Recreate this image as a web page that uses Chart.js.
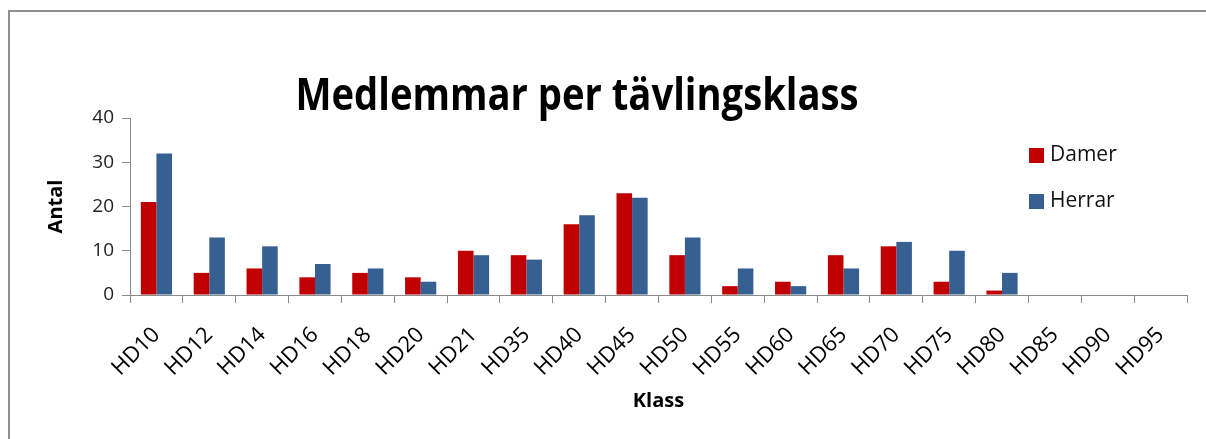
<!DOCTYPE html>
<html>
<head>
<meta charset="utf-8">
<script src="https://cdn.jsdelivr.net/npm/chart.js@4.4.0/dist/chart.umd.min.js"></script>
<style>
  html, body { margin: 0; padding: 0; background: #fff; }
  #wrap { position: relative; width: 1206px; height: 439px; overflow: hidden; }
  #frame { position: absolute; left: 8px; top: 10px; width: 1300px; height: 500px;
           border-left: 2px solid #8f8f8f; border-top: 2px solid #8f8f8f; }
  canvas { position: absolute; left: 0; top: 0; }
</style>
</head>
<body>
<div id="wrap">
  <div id="frame"></div>
  <canvas id="chart" width="1206" height="439"></canvas>
</div>
<script>
const chartTitle = "Medlemmar per tävlingsklass";
const classes = ["HD10", "HD12", "HD14", "HD16", "HD18", "HD20", "HD21", "HD35", "HD40", "HD45",
                 "HD50", "HD55", "HD60", "HD65", "HD70", "HD75", "HD80", "HD85", "HD90", "HD95"];
const damer  = [21, 5, 6, 4, 5, 4, 10, 9, 16, 23, 9, 2, 3, 9, 11, 3, 1, 0, 0, 0];
const herrar = [32, 13, 11, 7, 6, 3, 9, 8, 18, 22, 13, 6, 2, 6, 12, 10, 5, 0, 0, 0];
const yTicks = [0, 10, 20, 30, 40];

const font = "'Open Sans', 'Noto Sans', sans-serif";

// title + legend drawn on top, legend sits inside the plot like the original
const extras = {
    id: "extras",
    afterDraw(chart) {
        const ctx = chart.ctx;
        ctx.save();
        ctx.fillStyle = "#000";
        ctx.font = "bold 44px " + font;
        ctx.textAlign = "center";
        ctx.textBaseline = "middle";
        ctx.fillText(chartTitle, 577, 97, 563);

        ctx.font = "21px " + font;
        ctx.textAlign = "left";
        chart.data.datasets.forEach((ds, i) => {
            const y = 155 + i * 46;
            ctx.fillStyle = ds.backgroundColor;
            ctx.fillRect(1029, y - 7, 15, 15);
            ctx.fillStyle = "#111";
            ctx.fillText(ds.label, 1050, y);
        });
        ctx.restore();
    }
};

new Chart(document.getElementById("chart"), {
    type: "bar",
    data: {
        labels: classes,
        datasets: [
            { label: "Damer", data: damer, backgroundColor: "#C00000" },
            { label: "Herrar", data: herrar, backgroundColor: "#376092" }
        ]
    },
    options: {
        responsive: false,
        animation: false,
        layout: { padding: { top: 118, right: 19, left: 0, bottom: 0 } },
        datasets: { bar: { categoryPercentage: 0.59, barPercentage: 1.0 } },
        plugins: {
            legend: { display: false },
            title: { display: false },
            tooltip: { enabled: false }
        },
        scales: {
            x: {
                offset: true,
                grid: { offset: true, drawOnChartArea: false, color: "#8a8a8a", tickLength: 8 },
                border: { color: "#8a8a8a", width: 1 },
                ticks: { autoSkip: false, maxRotation: 45, minRotation: 45, padding: 19,
                         color: "#000", font: { family: font, size: 22 } },
                title: { display: true, text: "Klass", color: "#000",
                         font: { family: font, size: 20, weight: "bold" }, padding: { top: 0, bottom: 26 } },
                afterFit(s) { s.height = 144; }
            },
            y: {
                min: yTicks[0],
                max: yTicks[yTicks.length - 1],
                afterBuildTicks(s) { s.ticks = yTicks.map(v => ({ value: v })); },
                grid: { drawOnChartArea: false, color: "#8a8a8a", tickLength: 8 },
                border: { color: "#8a8a8a", width: 1 },
                ticks: { padding: 8, color: "#222", font: { family: font, size: 19 } },
                title: { display: true, text: "Antal", color: "#000",
                         font: { family: font, size: 20, weight: "bold" }, padding: { top: 44, bottom: 0 } },
                afterFit(s) { s.width = 130; }
            }
        }
    },
    plugins: [extras]
});
</script>
</body>
</html>
